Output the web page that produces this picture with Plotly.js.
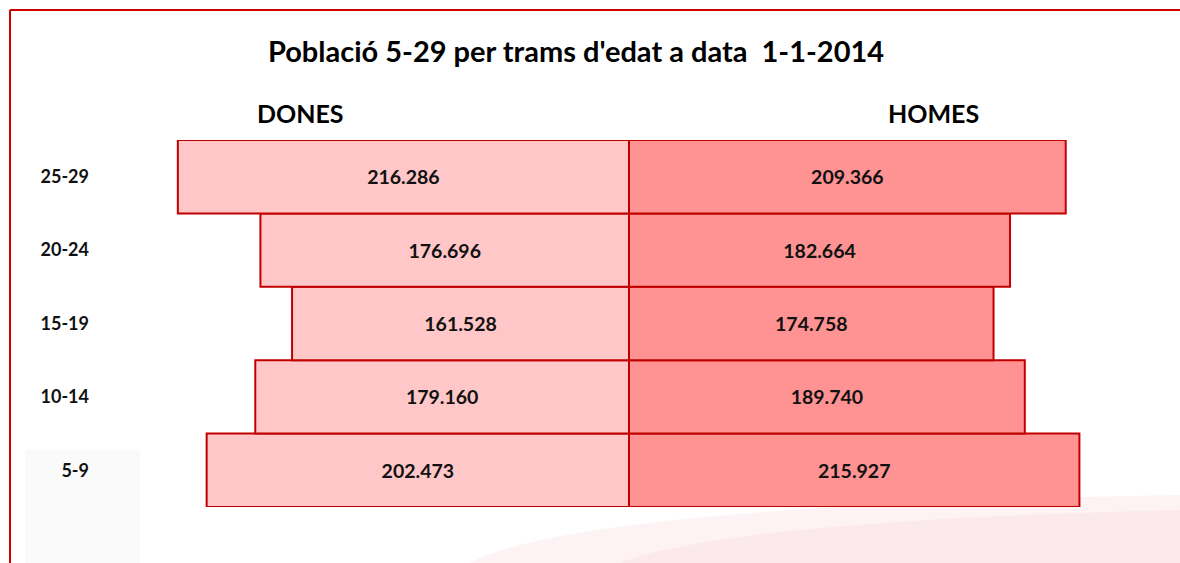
<!DOCTYPE html>
<html>
<head>
<meta charset="utf-8">
<script src="https://cdn.plot.ly/plotly-3.0.1.min.js"></script>
<style>
  html, body { margin: 0; padding: 0; background: #ffffff; }
  #chart { width: 1180px; height: 563px; }
</style>
</head>
<body>
<div id="chart"></div>
<script>
// Age groups, bottom to top
const ageGroups = ["5-9", "10-14", "15-19", "20-24", "25-29"];
// Women (DONES)
const dones = [202473, 179160, 161528, 176696, 216286];
// Men (HOMES)
const homes = [215927, 189740, 174758, 182664, 209366];
const titleText = "Població 5-29 per trams d'edat a data  1-1-2014";
const leftHeader = "DONES";
const rightHeader = "HOMES";

function fmt(v) {
  return String(v).replace(/\B(?=(\d{3})+(?!\d))/g, ".");
}

const FONT = "Lato, 'Open Sans', sans-serif";
const BORDER = "#C00000";

const traceDones = {
  type: "bar",
  orientation: "h",
  y: ageGroups,
  x: dones.map(v => -v),
  text: dones.map(v => "<b>" + fmt(v) + "</b>"),
  textposition: "inside",
  insidetextanchor: "middle",
  textangle: 0,
  textfont: { family: FONT, size: 19.5, color: "#111111", weight: 700 },
  marker: { color: "#FFC7C7", line: { color: BORDER, width: 2 } },
  hoverinfo: "skip",
  name: leftHeader
};
const traceHomes = {
  type: "bar",
  orientation: "h",
  y: ageGroups,
  x: homes,
  text: homes.map(v => "<b>" + fmt(v) + "</b>"),
  textposition: "inside",
  insidetextanchor: "middle",
  textangle: 0,
  textfont: { family: FONT, size: 19.5, color: "#111111", weight: 700 },
  marker: { color: "#FF9393", line: { color: BORDER, width: 2 } },
  hoverinfo: "skip",
  name: rightHeader
};

// plot area: x 95..1163, y 140..507
const L = 95, R = 1180 - 1163, T = 140, B = 563 - 507;
const pw = 1180 - L - R, ph = 563 - T - B;
const px = x => (x - L) / pw;
const py = y => (563 - B - y) / ph;

// faint background watermark (blurred logo in the original)
function rectPath(x0, y0, x1, y1) {
  return "M" + px(x0) + "," + py(y0) + " L" + px(x1) + "," + py(y0) +
         " L" + px(x1) + "," + py(y1) + " L" + px(x0) + "," + py(y1) + " Z";
}

const layout = {
  width: 1180,
  height: 563,
  margin: { l: L, r: R, t: T, b: B, pad: 0 },
  paper_bgcolor: "#ffffff",
  plot_bgcolor: "rgba(0,0,0,0)",
  barmode: "relative",
  bargap: 0,
  showlegend: false,
  font: { family: FONT, color: "#000000" },
  title: {
    text: "<b>" + titleText + "</b>",
    font: { family: FONT, size: 29, color: "#000000", weight: 700 },
    xref: "container", yref: "container",
    x: 576 / 1180, xanchor: "center",
    y: 1 - 52 / 563, yanchor: "middle"
  },
  xaxis: {
    range: [-256000, 256000],
    showgrid: false, zeroline: false, showline: false,
    showticklabels: false, ticks: ""
  },
  yaxis: {
    type: "category",
    categoryorder: "array",
    categoryarray: ageGroups,
    range: [-0.5, 4.5],
    showgrid: false, zeroline: false, showline: false,
    ticks: "", ticklabelstandoff: 5,
    tickvals: ageGroups,
    ticktext: ageGroups.map(a => "<b>" + a + "</b>"),
    tickfont: { family: FONT, size: 18, color: "#111111", weight: 700 }
  },
  annotations: [
    { text: "<b>" + leftHeader + "</b>", xref: "paper", yref: "paper",
      x: px(300), y: py(113), xanchor: "center", yanchor: "middle", showarrow: false,
      font: { family: FONT, size: 25, color: "#000000", weight: 700 } },
    { text: "<b>" + rightHeader + "</b>", xref: "paper", yref: "paper",
      x: px(933), y: py(113), xanchor: "center", yanchor: "middle", showarrow: false,
      font: { family: FONT, size: 25, color: "#000000", weight: 700 } }
  ],
  shapes: [
    { type: "path", xref: "paper", yref: "paper", layer: "below",
      path: "M" + px(470) + "," + py(563) + " C" + px(560) + "," + py(515) + " " + px(900) + "," + py(500) + " " + px(1180) + "," + py(495) +
            " L" + px(1180) + "," + py(563) + " Z",
      fillcolor: "rgba(225,90,120,0.07)", line: { width: 0 } },
    { type: "path", xref: "paper", yref: "paper", layer: "below",
      path: "M" + px(620) + "," + py(563) + " C" + px(700) + "," + py(530) + " " + px(950) + "," + py(515) + " " + px(1180) + "," + py(510) +
            " L" + px(1180) + "," + py(563) + " Z",
      fillcolor: "rgba(225,90,120,0.06)", line: { width: 0 } },
    { type: "path", xref: "paper", yref: "paper", layer: "below",
      path: rectPath(25, 450, 140, 563),
      fillcolor: "rgba(0,0,0,0.02)", line: { width: 0 } },
    { type: "line", xref: "paper", yref: "paper", x0: px(10), x1: px(10), y0: py(10), y1: py(570),
      line: { color: "#CC0000", width: 2 } },
    { type: "line", xref: "paper", yref: "paper", x0: px(10), x1: px(1185), y0: py(10), y1: py(10),
      line: { color: "#CC0000", width: 2 } }
  ]
};

Plotly.newPlot("chart", [traceDones, traceHomes], layout, { staticPlot: true, displayModeBar: false });
</script>
</body>
</html>
